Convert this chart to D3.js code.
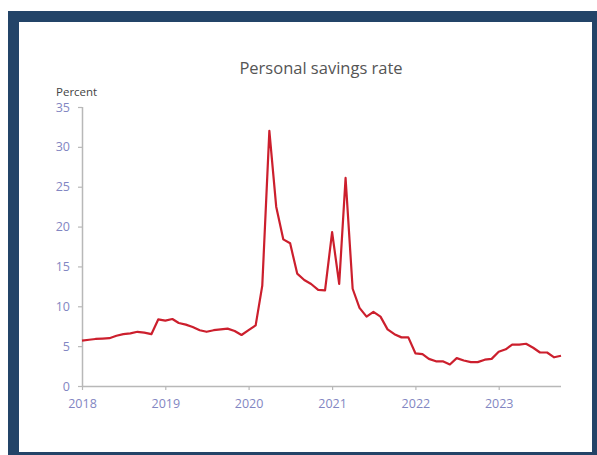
<!DOCTYPE html>
<html>
<head>
<meta charset="utf-8">
<script src="https://cdn.jsdelivr.net/npm/d3@7"></script>
<style>
  html, body { margin: 0; padding: 0; background: #fff; }
  svg { display: block; }
  .tick text { font-family: "Open Sans", sans-serif; }
</style>
</head>
<body>
<svg width="597" height="455"></svg>
<script>
// data: monthly personal savings rate, Jan 2018 - Oct 2023
var startMonth = "2018-01";
var savingsRate = [
    // 2018
    5.7, 5.8, 5.9, 5.95, 6.0, 6.3, 6.5, 6.6, 6.8, 6.7, 6.5, 8.35,
    // 2019
    8.2, 8.4, 7.9, 7.7, 7.4, 7.0, 6.8, 7.0, 7.1, 7.2, 6.9, 6.4,
    // 2020
    7.0, 7.6, 12.6, 32.0, 22.5, 18.4, 17.9, 14.1, 13.3, 12.8, 12.05, 12.0,
    // 2021
    19.3, 12.8, 26.1, 12.2, 9.8, 8.7, 9.3, 8.7, 7.1, 6.5, 6.1, 6.1,
    // 2022
    4.1, 4.0, 3.4, 3.1, 3.1, 2.7, 3.5, 3.2, 3.0, 3.0, 3.3, 3.4,
    // 2023
    4.3, 4.6, 5.2, 5.2, 5.3, 4.8, 4.2, 4.2, 3.6, 3.8
];
var yTicks = [0, 5, 10, 15, 20, 25, 30, 35];
var xTickYears = ["2018", "2019", "2020", "2021", "2022", "2023"];

var svg = d3.select("svg"),
    width = 597,
    height = 455;

// frame
svg.append("rect")
    .attr("x", 8).attr("y", 11)
    .attr("width", width - 8).attr("height", height - 11)
    .attr("fill", "#234468");
svg.append("rect")
    .attr("x", 19).attr("y", 22)
    .attr("width", 573).attr("height", 430)
    .attr("fill", "#ffffff");

var parseMonth = d3.timeParse("%Y-%m");
var t0 = parseMonth(startMonth);
var data = savingsRate.map(function (v, i) {
    return { date: d3.timeMonth.offset(t0, i), value: v };
});

var x = d3.scaleTime()
    .domain([t0, data[data.length - 1].date])
    .range([82, 561]);
var y = d3.scaleLinear()
    .domain([0, 35])
    .range([386, 107]);

var labelColor = "#8286c2";
var axisColor = "#b8b8b8";

// y axis
var yAxis = svg.append("g")
    .attr("transform", "translate(82,0)")
    .call(d3.axisLeft(y).tickValues(yTicks).tickSize(4).tickPadding(8));
// x axis
var xAxis = svg.append("g")
    .attr("transform", "translate(0,386)")
    .call(d3.axisBottom(x)
        .tickValues(xTickYears.map(function (s) { return d3.timeParse("%Y")(s); }))
        .tickFormat(d3.timeFormat("%Y"))
        .tickSize(4).tickPadding(9)
        .tickSizeOuter(0));

[yAxis, xAxis].forEach(function (a) {
    a.select(".domain").attr("stroke", axisColor).attr("stroke-width", 1.5);
    a.selectAll(".tick line").attr("stroke", axisColor).attr("stroke-width", 1.2);
    a.selectAll(".tick text")
        .attr("fill", labelColor)
        .style("font-size", "12.5px");
});
// extend x axis line a little past the last point
xAxis.select(".domain").attr("d", "M82,0.5H561");
yAxis.select(".domain").attr("d", "M0.5,107V386");

// line
var line = d3.line()
    .x(function (d) { return x(d.date); })
    .y(function (d) { return y(d.value); });

svg.append("path")
    .datum(data)
    .attr("fill", "none")
    .attr("stroke", "#cc1f2d")
    .attr("stroke-width", 2.2)
    .attr("stroke-linejoin", "round")
    .attr("d", line);

// title
svg.append("text")
    .attr("x", 321).attr("y", 74)
    .attr("text-anchor", "middle")
    .attr("fill", "#555")
    .style("font-family", "'Open Sans', sans-serif")
    .style("font-size", "16.5px")
    .text("Personal savings rate");

// unit label
svg.append("text")
    .attr("x", 56).attr("y", 96)
    .attr("fill", "#444")
    .style("font-family", "'Open Sans', sans-serif")
    .style("font-size", "11.5px")
    .text("Percent");
</script>
</body>
</html>
